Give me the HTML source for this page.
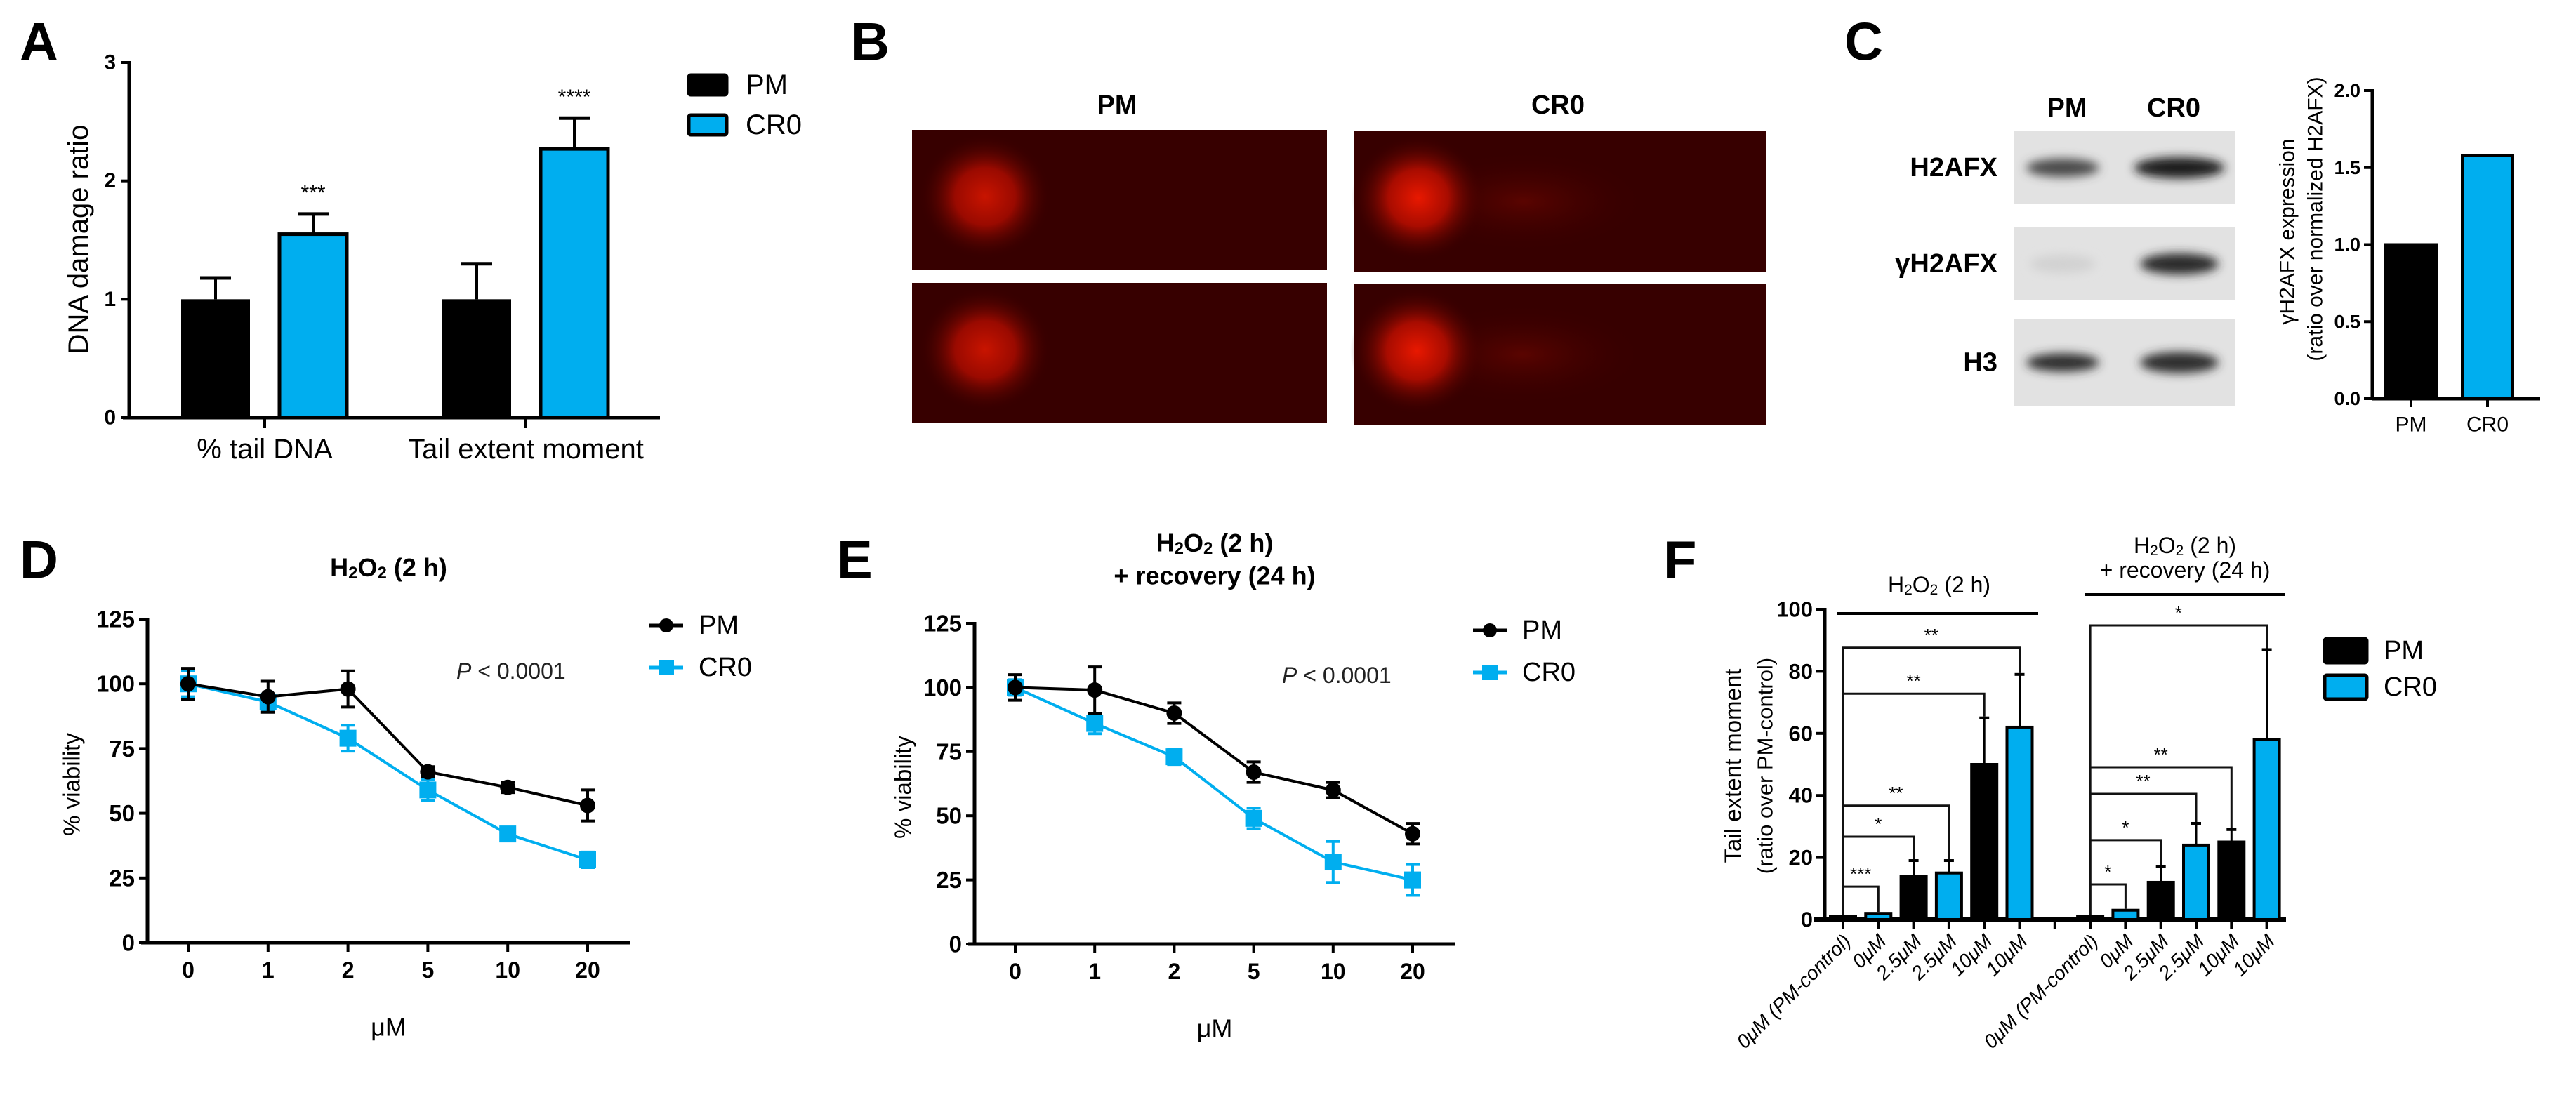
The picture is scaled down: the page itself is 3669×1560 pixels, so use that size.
<!DOCTYPE html>
<html><head><meta charset="utf-8">
<style>
html,body{margin:0;padding:0;background:#fff;}
svg{display:block;font-family:"Liberation Sans",Arial,sans-serif;}
</style></head>
<body>
<svg id="fig" width="3669" height="1560" viewBox="0 0 3669 1560" xmlns="http://www.w3.org/2000/svg">
<defs>
  <radialGradient id="blob1" cx="0.5" cy="0.5" r="0.5">
    <stop offset="0" stop-color="#c81400"/><stop offset="0.45" stop-color="#9a0a00"/><stop offset="1" stop-color="#360000" stop-opacity="0"/>
  </radialGradient>
  <radialGradient id="blob2" cx="0.5" cy="0.5" r="0.5">
    <stop offset="0" stop-color="#e81800"/><stop offset="0.45" stop-color="#a80c00"/><stop offset="1" stop-color="#3a0000" stop-opacity="0"/>
  </radialGradient>
  <radialGradient id="tail" cx="0.5" cy="0.5" r="0.5">
    <stop offset="0" stop-color="#5a0400"/><stop offset="1" stop-color="#3a0000" stop-opacity="0"/>
  </radialGradient>
  <filter id="blur" x="-30%" y="-100%" width="160%" height="300%"><feGaussianBlur stdDeviation="7"/></filter>
</defs>
<g id="root"></g>
</svg>
<script>
// ---------- DATA ----------
// Panel A
const aCategories = ["% tail DNA", "Tail extent moment"];
const aPM = [1.0, 1.0];
const aPMErr = [0.18, 0.30];
const aCR0 = [1.55, 2.27];
const aCR0Err = [0.17, 0.26];
const aStars = ["***", "****"];
const aTicks = [0, 1, 2, 3];
// Panel C
const cCategories = ["PM", "CR0"];
const cValues = [1.0, 1.58];
const cTicks = ["0.0", "0.5", "1.0", "1.5", "2.0"];
// Panel D
const doseLabels = ["0", "1", "2", "5", "10", "20"];
const dPM = [100, 95, 98, 66, 60, 53];
const dPMErr = [6, 6, 7, 2, 2, 6];
const dCR0 = [100, 93, 79, 59, 42, 32];
const dCR0Err = [5, 3, 5, 4, 2, 3];
// Panel E
const ePM = [100, 99, 90, 67, 60, 43];
const ePMErr = [5, 9, 4, 4, 3, 4];
const eCR0 = [100, 86, 73, 49, 32, 25];
const eCR0Err = [3, 4, 3, 4, 8, 6];
const vTicks = [0, 25, 50, 75, 100, 125];
// Panel F
const fLabels = ["0μM (PM-control)", "0μM", "2.5μM", "2.5μM", "10μM", "10μM", "", "0μM (PM-control)", "0μM", "2.5μM", "2.5μM", "10μM", "10μM"];
const fSeries = ["PM", "CR0", "PM", "CR0", "PM", "CR0", "", "PM", "CR0", "PM", "CR0", "PM", "CR0"];
const fValues = [1, 2, 14, 15, 50, 62, 0, 1, 3, 12, 24, 25, 58];
const fErr = [0, 0, 5, 4, 15, 17, 0, 0, 0, 5, 7, 4, 29];
const fTicks = [0, 20, 40, 60, 80, 100];
const fBrFrom = [0, 0, 0, 0, 0, 7, 7, 7, 7, 7];
const fBrTo = [5, 4, 3, 2, 1, 12, 11, 10, 9, 8];
const fBrLevel = [87.6, 72.8, 36.7, 26.7, 10.6, 94.8, 49.1, 40.5, 25.6, 11.3];
const fBrStars = ["**", "**", "**", "*", "***", "*", "**", "**", "*", "*"];

const BLUE = "#00aeef";
const NS = "http://www.w3.org/2000/svg";
const root = document.getElementById("root");
function mk(tag, attrs, parent) {
  const e = document.createElementNS(NS, tag);
  for (const k in attrs) e.setAttribute(k, attrs[k]);
  (parent || root).appendChild(e);
  return e;
}
function txt(s, x, y, size, opts, parent) {
  opts = opts || {};
  const t = mk("text", {x: x, y: y, "font-size": size, "text-anchor": opts.anchor || "middle",
    "dominant-baseline": "central", "font-weight": opts.bold ? "bold" : "normal",
    "font-style": opts.italic ? "italic" : "normal", fill: opts.fill || "#000"}, parent);
  if (opts.transform) t.setAttribute("transform", opts.transform);
  t.textContent = s;
  return t;
}
function line(x1, y1, x2, y2, w, parent, color) {
  return mk("line", {x1: x1, y1: y1, x2: x2, y2: y2, stroke: color || "#000", "stroke-width": w}, parent);
}

// ---------- panel letters ----------
[["A", 28], ["B", 1212], ["C", 2627]].forEach(p => {
  const t = txt(p[0], p[1], 60, 76, {anchor: "start", bold: true});
  
  
});
[["D", 28], ["E", 1192], ["F", 2370]].forEach(p => {
  const t = txt(p[0], p[1], 798, 76, {anchor: "start", bold: true});
  
  
});

// ---------- PANEL A ----------
const gA = mk("g", {});


const yA = v => 595 - v * (595 - 89) / 3;
const xA = i => 377 + i * 372;
line(184, 87, 184, 597, 5, gA);
line(175, 595, 940, 595, 5, gA);
aTicks.forEach(v => {
  line(172, yA(v), 184, yA(v), 4, gA);
  const t = txt(String(v), 165, yA(v), 30, {anchor: "end", bold: true}, gA);
  
  
});
aCategories.forEach((c, i) => {
  line(xA(i), 595, xA(i), 610, 4, gA);
  const t = txt(c, xA(i), 640, 40, {}, gA);
  
  
  // PM bar
  const bx = xA(i) - 119;
  line(bx + 49, yA(aPM[i] + aPMErr[i]), bx + 49, yA(aPM[i]), 4, gA);
  line(bx + 27, yA(aPM[i] + aPMErr[i]), bx + 71, yA(aPM[i] + aPMErr[i]), 5, gA);
  const b1 = mk("rect", {x: bx, y: yA(aPM[i]), width: 98, height: yA(0) - yA(aPM[i]), fill: "#000"}, gA);
  
  
  const cx = xA(i) + 69;
  line(cx, yA(aCR0[i] + aCR0Err[i]), cx, yA(aCR0[i]), 4, gA);
  line(cx - 22, yA(aCR0[i] + aCR0Err[i]), cx + 22, yA(aCR0[i] + aCR0Err[i]), 5, gA);
  const b2 = mk("rect", {x: cx - 48, y: yA(aCR0[i]), width: 96, height: yA(0) - yA(aCR0[i]), fill: BLUE, stroke: "#000", "stroke-width": 5}, gA);
  
  
  const s = txt(aStars[i], cx, yA(aCR0[i] + aCR0Err[i]) - 30, 30, {}, gA);
  
  
});
const aYT = txt("DNA damage ratio", 112, 341, 40, {transform: "rotate(-90 112 341)"}, gA);


[["PM", "#000", 105], ["CR0", BLUE, 162]].forEach(l => {
  const r = mk("rect", {x: 981, y: l[2] + 2, width: 54, height: 28, fill: l[1], stroke: "#000", "stroke-width": 5, rx: 3}, gA);
  
  
  const t = txt(l[0], 1062, l[2] + 16, 40, {anchor: "start"}, gA);
  
  
});

// ---------- PANEL B ----------
const gB = mk("g", {});


const bT1 = txt("PM", 1591, 150, 38, {bold: true}, gB);


const bT2 = txt("CR0", 2219, 150, 38, {bold: true}, gB);


[[1299, 185, 1403, "blob1", false], [1299, 403, 1403, "blob1", false], [1929, 187, 2020, "blob2", true], [1929, 405, 2018, "blob2", true]].forEach((c, i) => {
  const g = mk("g", {}, gB);
  
  
  mk("rect", {x: c[0], y: c[1], width: (c[0] < 1900 ? 591 : 586), height: 200, fill: "#370000"}, g);
  if (c[4]) mk("ellipse", {cx: c[2] + 150, cy: c[1] + 100, rx: 170, ry: 70, fill: "url(#tail)"}, g);
  mk("ellipse", {cx: c[2], cy: c[1] + 95, rx: 95, ry: 90, fill: "url(#" + c[3] + ")"}, g);
});

// ---------- PANEL C ----------
const gC = mk("g", {});


const cL1 = txt("PM", 2944, 154, 38, {bold: true}, gC);


const cL2 = txt("CR0", 3096, 154, 38, {bold: true}, gC);


[["H2AFX", 187, 291, "#4a4a4a", "#1a1a1a", 1.0, 1.15], ["γH2AFX", 324, 428, "#d2d2d2", "#2a2a2a", 0.9, 1.0], ["H3", 455, 578, "#2e2e2e", "#2e2e2e", 1.0, 1.0]].forEach(r => {
  const g = mk("g", {}, gC);
  
  
  mk("rect", {x: 2868, y: r[1], width: 315, height: r[2] - r[1], fill: "#e2e2e2"}, g);
  const cy = (r[1] + r[2]) / 2;
  mk("ellipse", {cx: 2938, cy: cy, rx: 52 * r[5], ry: 13, fill: r[3], filter: "url(#blur)"}, g);
  mk("ellipse", {cx: 3104, cy: cy, rx: 56 * r[6], ry: 15, fill: r[4], filter: "url(#blur)"}, g);
  const t = txt(r[0], 2845, cy, 38, {anchor: "end", bold: true}, gC);
  
  
});
const yC = v => 568 - v * (568 - 129) / 2;
const xC = i => 3434 + i * 109;
line(3379, 127, 3379, 570, 5, gC);
line(3379, 568, 3618, 568, 5, gC);
cTicks.forEach(s => {
  const v = parseFloat(s);
  line(3367, yC(v), 3379, yC(v), 4, gC);
  const t = txt(s, 3362, yC(v), 27, {anchor: "end", bold: true}, gC);
  
  
});
cCategories.forEach((c, i) => {
  const b = mk("rect", {x: xC(i) - 36, y: yC(cValues[i]), width: 72, height: yC(0) - yC(cValues[i]), fill: i ? BLUE : "#000", stroke: "#000", "stroke-width": 4}, gC);
  
  
  line(xC(i), 568, xC(i), 580, 4, gC);
  const t = txt(c, xC(i), 605, 30, {}, gC);
  
  
});
const cY1 = txt("γH2AFX expression", 3258, 330, 30, {transform: "rotate(-90 3258 330)"}, gC);


const cY2 = txt("(ratio over normalized H2AFX)", 3298, 312, 30, {transform: "rotate(-90 3298 312)"}, gC);



// ---------- PANELS D & E ----------
function viabilityChart(name, x0, yTop, yBot, xStart, xStep, pm, pmErr, cr, crErr, titles, titleY, legX, legY, pX, pY, ylabX) {
  const g = mk("g", {});
  
  
  const yS = v => yBot - v * (yBot - yTop) / 125;
  const xS = i => xStart + i * xStep;
  const xEnd = xS(5) + 60;
  line(x0, yTop - 2, x0, yBot + 2, 5, g);
  line(x0 - 9, yBot, xEnd, yBot, 5, g);
  vTicks.forEach(v => {
    line(x0 - 12, yS(v), x0, yS(v), 4, g);
    const t = txt(String(v), x0 - 18, yS(v), 33, {anchor: "end", bold: true}, g);
    
    
  });
  doseLabels.forEach((d, i) => {
    line(xS(i), yBot, xS(i), yBot + 13, 4, g);
    const t = txt(d, xS(i), yBot + 39, 32, {bold: true}, g);
    
    
  });
  const cx = (x0 + xEnd) / 2;
  const mu = txt("μM", cx, yBot + 120, 36, {}, g);
  
  
  const yl = txt("% viability", ylabX, (yTop + yBot) / 2 + 5, 33, {transform: "rotate(-90 " + ylabX + " " + ((yTop + yBot) / 2 + 5) + ")"}, g);
  
  
  titles.forEach((s, k) => {
    const t = mk("text", {x: cx, y: titleY + k * 47, "font-size": 36, "font-weight": "bold", "text-anchor": "middle", "dominant-baseline": "central"}, g);
    
    
    if (s === "H2O2") {
      t.innerHTML = 'H<tspan font-size="24" dy="8">2</tspan><tspan dy="-8">O</tspan><tspan font-size="24" dy="8">2</tspan><tspan dy="-8"> (2 h)</tspan>';
    } else t.textContent = s;
  });
  const p = mk("text", {x: pX, y: pY, "font-size": 32, "dominant-baseline": "central", fill: "#222"}, g);
  
  
  p.innerHTML = '<tspan font-style="italic">P</tspan> &lt; 0.0001';
  [[cr, crErr, BLUE, "cr0"], [pm, pmErr, "#000", "pm"]].forEach(s => {
    const pts = s[0].map((v, i) => xS(i) + "," + yS(v)).join(" ");
    const pl = mk("polyline", {points: pts, fill: "none", stroke: s[2], "stroke-width": 4}, g);
    
    
    s[0].forEach((v, i) => {
      const x = xS(i), e = s[1][i];
      line(x, yS(v + e), x, yS(v - e), 4, g, s[2]);
      line(x - 10, yS(v + e), x + 10, yS(v + e), 4, g, s[2]);
      line(x - 10, yS(v - e), x + 10, yS(v - e), 4, g, s[2]);
      let m;
      if (s[3] === "pm") m = mk("circle", {cx: x, cy: yS(v), r: 11, fill: "#000"}, g);
      else m = mk("rect", {x: x - 12, y: yS(v) - 12, width: 24, height: 24, fill: BLUE}, g);
      
      
    });
  });
  [["PM", "#000", 0], ["CR0", BLUE, 1]].forEach(l => {
    const y = legY + l[2] * 60;
    line(legX, y, legX + 48, y, 5, g, l[1]);
    if (l[2] === 0) mk("circle", {cx: legX + 24, cy: y, r: 10, fill: "#000"}, g);
    else mk("rect", {x: legX + 13, y: y - 11, width: 22, height: 22, fill: BLUE}, g);
    const t = txt(l[0], legX + 70, y, 38, {anchor: "start"}, g);
    
    
  });
}
viabilityChart("panel-d-viability-chart", 210, 882, 1343, 268, 113.8, dPM, dPMErr, dCR0, dCR0Err, ["H2O2"], 808, 925, 891, 650, 956, 102);
viabilityChart("panel-e-viability-recovery-chart", 1388, 888, 1345, 1446, 113.2, ePM, ePMErr, eCR0, eCR0Err, ["H2O2", "+ recovery (24 h)"], 773, 2098, 898, 1826, 962, 1286);

// ---------- PANEL F ----------
const gF = mk("g", {});


const yF = v => 1310 - v * (1310 - 868) / 100;
const xF = i => 2625 + i * 50.3;
line(2599, 866, 2599, 1312, 5, gF);
line(2583, 1310, 3256, 1310, 6, gF);
fTicks.forEach(v => {
  line(2587, yF(v), 2599, yF(v), 4, gF);
  const t = txt(String(v), 2582, yF(v), 31, {anchor: "end", bold: true}, gF);
  
  
});
fValues.forEach((v, i) => {
  line(xF(i), 1310, xF(i), 1324, 4, gF);
  if (fSeries[i] === "") return;
  const top = v + fErr[i];
  if (fErr[i] > 0) {
    line(xF(i), yF(top), xF(i), yF(v), 3, gF);
    line(xF(i) - 7, yF(top), xF(i) + 7, yF(top), 4, gF);
  }
  const b = mk("rect", {x: xF(i) - 18, y: yF(v), width: 36, height: yF(0) - yF(v), fill: fSeries[i] === "PM" ? "#000" : BLUE, stroke: "#000", "stroke-width": 4}, gF);
  
  
  const lx = xF(i) + 6, ly = 1336;
  const t = txt(fLabels[i], lx, ly, 28, {anchor: "end", italic: true, transform: "rotate(-45 " + lx + " " + ly + ")"}, gF);
  
  
});
fBrFrom.forEach((f, k) => {
  const to = fBrTo[k];
  const y = yF(fBrLevel[k]);
  const endY = yF(fValues[to] + fErr[to]) - 2;
  const p = mk("polyline", {points: xF(f) + "," + yF(1.5) + " " + xF(f) + "," + y + " " + xF(to) + "," + y + " " + xF(to) + "," + endY, fill: "none", stroke: "#111", "stroke-width": 3}, gF);
  
  
  const s = txt(fBrStars[k], (xF(f) + xF(to)) / 2, y - 18, 26, {}, gF);
  
  
});
line(2617, 874, 2903, 874, 4, gF);
line(2969, 847, 3254, 847, 4, gF);
const ft1 = mk("text", {x: 2762, y: 833, "font-size": 32, "text-anchor": "middle", "dominant-baseline": "central"}, gF);


ft1.innerHTML = 'H<tspan font-size="21" dy="7">2</tspan><tspan dy="-7">O</tspan><tspan font-size="21" dy="7">2</tspan><tspan dy="-7"> (2 h)</tspan>';
const ft2 = mk("text", {x: 3112, y: 777, "font-size": 32, "text-anchor": "middle", "dominant-baseline": "central"}, gF);


ft2.innerHTML = 'H<tspan font-size="21" dy="7">2</tspan><tspan dy="-7">O</tspan><tspan font-size="21" dy="7">2</tspan><tspan dy="-7"> (2 h)</tspan>';
const ft3 = txt("+ recovery (24 h)", 3112, 812, 32, {}, gF);


const fy1 = txt("Tail extent moment", 2468, 1091, 33, {transform: "rotate(-90 2468 1091)"}, gF);


const fy2 = txt("(ratio over PM-control)", 2514, 1091, 31, {transform: "rotate(-90 2514 1091)"}, gF);


[["PM", "#000", 910], ["CR0", BLUE, 962]].forEach(l => {
  const r = mk("rect", {x: 3311, y: l[2], width: 60, height: 34, fill: l[1], stroke: "#000", "stroke-width": 5, rx: 3}, gF);
  
  
  const t = txt(l[0], 3395, l[2] + 17, 38, {anchor: "start"}, gF);
  
  
});
</script>
</body></html>
